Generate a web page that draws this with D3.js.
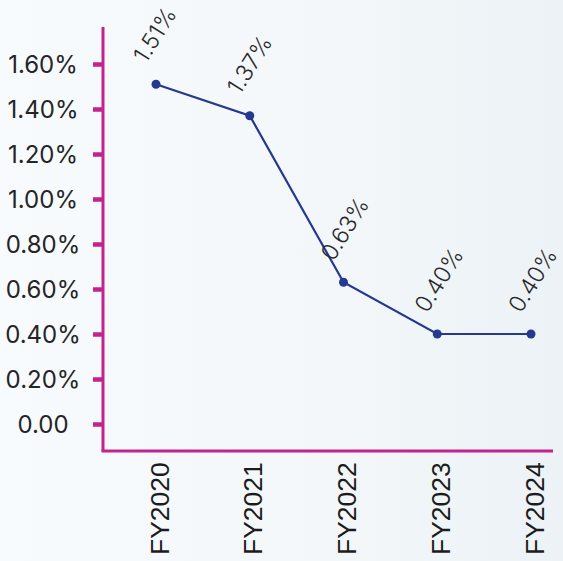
<!DOCTYPE html>
<html>
<head>
<meta charset="utf-8">
<script src="https://cdn.jsdelivr.net/npm/d3@7"></script>
<style>
  html, body { margin: 0; padding: 0; }
  body { width: 563px; height: 561px; overflow: hidden; }
</style>
</head>
<body>
<svg id="chart" width="563" height="561"></svg>
<script>
// Gross NPA ratio by fiscal year
const categories = ["FY2020", "FY2021", "FY2022", "FY2023", "FY2024"];
const values = [1.51, 1.37, 0.63, 0.40, 0.40];
const valueLabels = ["1.51%", "1.37%", "0.63%", "0.40%", "0.40%"];
const yTicks = [0, 0.2, 0.4, 0.6, 0.8, 1.0, 1.2, 1.4, 1.6];
const yTickLabels = ["0.00", "0.20%", "0.40%", "0.60%", "0.80%", "1.00%", "1.20%", "1.40%", "1.60%"];

const W = 563, H = 561;
const axisColor = "#c4238f";
const lineColor = "#24398f";
const labelFont = "Inter, 'Noto Sans', sans-serif";

const svg = d3.select("#chart");

// soft background wash
const defs = svg.append("defs");
const bg = defs.append("linearGradient").attr("id", "bg").attr("x1", 0).attr("y1", 0).attr("x2", 1).attr("y2", 0);
bg.append("stop").attr("offset", "0%").attr("stop-color", "#f8fbfd");
bg.append("stop").attr("offset", "60%").attr("stop-color", "#f3f7fa");
bg.append("stop").attr("offset", "100%").attr("stop-color", "#ecf2f6");
svg.append("rect").attr("width", W).attr("height", H).attr("fill", "url(#bg)");

const plot = { left: 103, right: 553, top: 27, bottom: 451 };

const x = d3.scalePoint()
  .domain(categories)
  .range([156, 531]);

const y = d3.scaleLinear()
  .domain([0, 1.6])
  .range([424, 64]);

// axis lines
svg.append("line")
  .attr("x1", plot.left).attr("x2", plot.left)
  .attr("y1", plot.top).attr("y2", plot.bottom)
  .attr("stroke", axisColor).attr("stroke-width", 3);

svg.append("line")
  .attr("x1", plot.left - 1.5).attr("x2", plot.right)
  .attr("y1", plot.bottom).attr("y2", plot.bottom)
  .attr("stroke", axisColor).attr("stroke-width", 3);

const yAxis = d3.axisLeft(y)
  .tickValues(yTicks)
  .tickFormat((d, i) => yTickLabels[i])
  .tickSize(9)
  .tickPadding(0);

const gy = svg.append("g")
  .attr("transform", `translate(${plot.left - 1},0)`)
  .call(yAxis);
gy.select(".domain").remove();
gy.selectAll(".tick line")
  .attr("stroke", axisColor).attr("stroke-width", 4.5);
gy.selectAll(".tick text")
  .attr("x", 43 - (plot.left - 1))
  .attr("text-anchor", "middle")
  .attr("dy", "0.36em")
  .attr("fill", "#252525")
  .style("font-family", labelFont)
  .style("font-size", "24px")
  .style("font-weight", 400);

// x axis category labels, rotated
const xAxis = d3.axisBottom(x).tickSize(0).tickPadding(0);
const gx = svg.append("g")
  .attr("transform", `translate(0,${plot.bottom})`)
  .call(xAxis);
gx.select(".domain").remove();
gx.selectAll(".tick text")
  .attr("transform", "rotate(-90)")
  .attr("x", -104)
  .attr("y", 0)
  .attr("dy", "0.36em")
  .attr("text-anchor", "start")
  .attr("fill", "#1c1c1c")
  .style("font-family", "'Liberation Sans', Arial, sans-serif")
  .style("font-size", "26.5px");
gx.selectAll(".tick").attr("transform", d => `translate(${x(d) + 3},0)`);

// series line
const line = d3.line()
  .x((d, i) => x(categories[i]))
  .y(d => y(d));

svg.append("path")
  .datum(values)
  .attr("d", line)
  .attr("fill", "none")
  .attr("stroke", lineColor)
  .attr("stroke-width", 2.2);

svg.selectAll("circle.pt")
  .data(values)
  .join("circle")
  .attr("class", "pt")
  .attr("cx", (d, i) => x(categories[i]))
  .attr("cy", d => y(d))
  .attr("r", 4.5)
  .attr("fill", lineColor);

// value labels
svg.selectAll("text.val")
  .data(values)
  .join("text")
  .attr("class", "val")
  .attr("transform", (d, i) => `translate(${x(categories[i]) - 10},${y(d) - 20}) rotate(-58)`)
  .attr("fill", "#2a2a2a")
  .style("font-family", labelFont)
  .style("font-size", "23px")
  .style("font-weight", 350)
  .text((d, i) => valueLabels[i]);
</script>
</body>
</html>
